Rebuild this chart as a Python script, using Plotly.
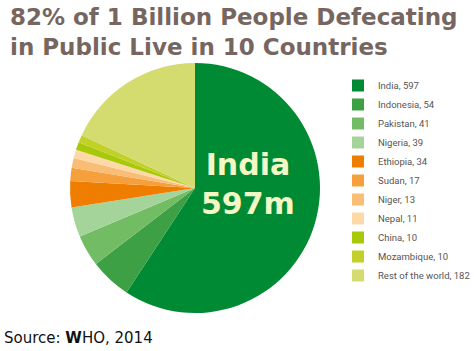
import plotly.graph_objects as go

countries = ["India", "Indonesia", "Pakistan", "Nigeria", "Ethiopia", "Sudan",
             "Niger", "Nepal", "China", "Mozambique", "Rest of the world"]
values = [597, 54, 41, 39, 34, 17, 13, 11, 10, 10, 182]
colors = ["#008a34", "#3ea045", "#72bc63", "#a5d49a", "#ef7d00", "#f5a03c",
          "#f9bd75", "#fdd9a8", "#a8c80a", "#c2d12a", "#d4dc70"]
legend_labels = [f"{c}, {v}" for c, v in zip(countries, values)]

W, H = 474, 351
fig = go.Figure(go.Pie(
    labels=legend_labels, values=values, sort=False, direction="clockwise",
    rotation=0, marker=dict(colors=colors, line=dict(width=0)),
    textinfo="none", hoverinfo="label+percent",
    domain=dict(x=[70 / W, 320 / W], y=[(H - 313) / H, (H - 63) / H]),
))

fig.add_annotation(x=8 / W, y=1 - 2 / H, xref="paper", yref="paper",
                   xanchor="left", yanchor="top", align="left",
                   text="<b>82% of 1 Billion People Defecating<br>in Public Live in 10 Countries</b>",
                   showarrow=False,
                   font=dict(family="DejaVu Sans", size=23, color="#76665f"))
fig.add_annotation(x=248 / W, y=1 - 184 / H, xref="paper", yref="paper",
                   text="<b>India<br>597m</b>", showarrow=False,
                   font=dict(family="DejaVu Sans", size=30, color="#f3f8c4"),
                   align="center")
fig.add_annotation(x=2 / W, y=1 - 338 / H, xref="paper", yref="paper",
                   xanchor="left", yanchor="middle",
                   text="Source: <b>W</b>HO, 2014", showarrow=False,
                   font=dict(family="DejaVu Sans", size=15, color="#111111"))

fig.update_layout(
    width=W, height=H, margin=dict(l=0, r=0, t=0, b=0, autoexpand=False),
    paper_bgcolor="white", plot_bgcolor="white",
    legend=dict(x=338 / W, xanchor="left", y=1 - 71 / H, yanchor="top",
                font=dict(family="Roboto", size=9.5, color="#555555"),
                bgcolor="rgba(0,0,0,0)", itemclick=False),
)
fig.write_html("out.html")
